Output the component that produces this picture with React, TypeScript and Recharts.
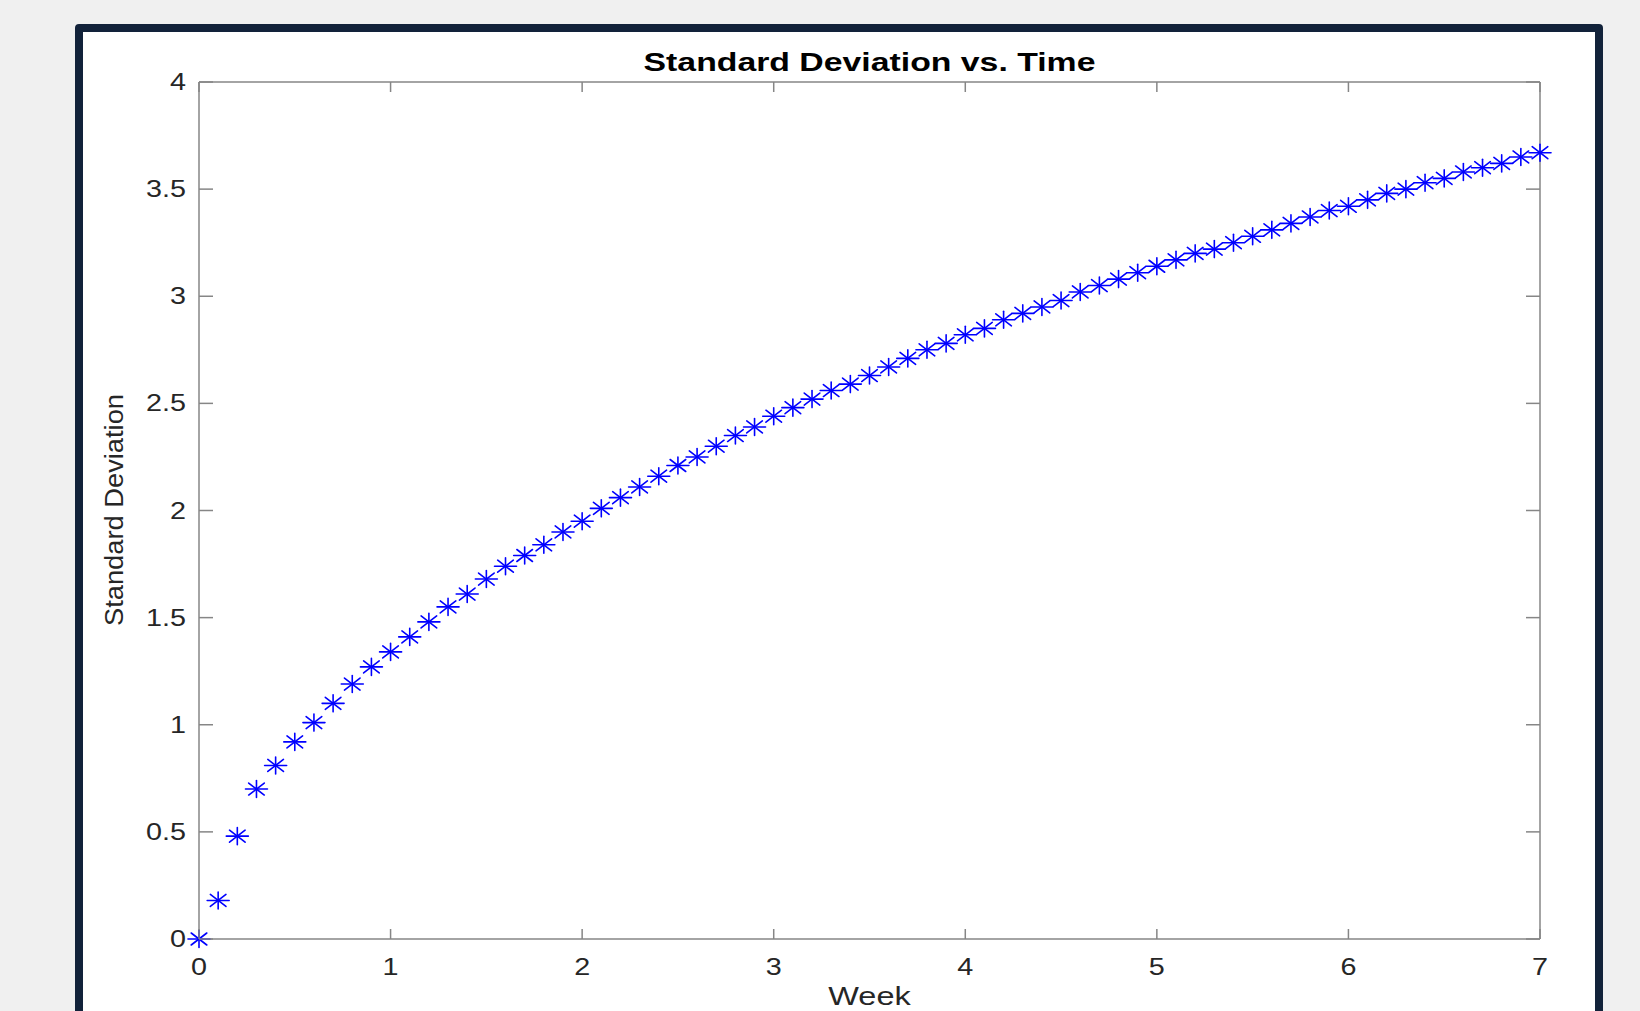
import React from 'react';
import { ScatterChart, Scatter, XAxis, YAxis, ReferenceLine } from 'recharts';

const weeks = [
  0, 0.1, 0.2, 0.3, 0.4, 0.5, 0.6, 0.7, 0.8, 0.9,
  1, 1.1, 1.2, 1.3, 1.4, 1.5, 1.6, 1.7, 1.8, 1.9,
  2, 2.1, 2.2, 2.3, 2.4, 2.5, 2.6, 2.7, 2.8, 2.9,
  3, 3.1, 3.2, 3.3, 3.4, 3.5, 3.6, 3.7, 3.8, 3.9,
  4, 4.1, 4.2, 4.3, 4.4, 4.5, 4.6, 4.7, 4.8, 4.9,
  5, 5.1, 5.2, 5.3, 5.4, 5.5, 5.6, 5.7, 5.8, 5.9,
  6, 6.1, 6.2, 6.3, 6.4, 6.5, 6.6, 6.7, 6.8, 6.9,
  7,
];

const stdDev = [
  0, 0.18, 0.48, 0.70, 0.81, 0.92, 1.01, 1.10, 1.19, 1.27,
  1.34, 1.41, 1.48, 1.55, 1.61, 1.68, 1.74, 1.79, 1.84, 1.90,
  1.95, 2.01, 2.06, 2.11, 2.16, 2.21, 2.25, 2.30, 2.35, 2.39,
  2.44, 2.48, 2.52, 2.56, 2.59, 2.63, 2.67, 2.71, 2.75, 2.78,
  2.82, 2.85, 2.89, 2.92, 2.95, 2.98, 3.02, 3.05, 3.08, 3.11,
  3.14, 3.17, 3.20, 3.22, 3.25, 3.28, 3.31, 3.34, 3.37, 3.40,
  3.42, 3.45, 3.48, 3.50, 3.53, 3.55, 3.58, 3.60, 3.62, 3.65,
  3.67,
];

const xTicks = [0, 1, 2, 3, 4, 5, 6, 7];
const yTicks = [0, 0.5, 1, 1.5, 2, 2.5, 3, 3.5, 4];

const TITLE = 'Standard Deviation vs. Time';
const X_LABEL = 'Week';
const Y_LABEL = 'Standard Deviation';

// plot box (px) - matches margins below
const PLOT = { left: 199, right: 1540, top: 82, bottom: 939 };
const FONT = '"Liberation Sans", Arial, Helvetica, sans-serif';
const AXIS_GRAY = '#868686';
const TEXT_GRAY = '#262626';
const STRETCH = 1.25;

const data = weeks.map((w, i) => ({ week: w, sd: stdDev[i] }));

const Asterisk = (props: any) => {
  const { cx, cy } = props;
  if (cx == null || cy == null) return null;
  const rx = 11;
  const ry = 8.5;
  const dx = 7.8;
  const dy = 6;
  return (
    <g stroke="#0000ff" strokeWidth={1.6} strokeLinecap="round">
      <line x1={cx - rx} y1={cy} x2={cx + rx} y2={cy} />
      <line x1={cx} y1={cy - ry} x2={cx} y2={cy + ry} />
      <line x1={cx - dx} y1={cy - dy} x2={cx + dx} y2={cy + dy} />
      <line x1={cx - dx} y1={cy + dy} x2={cx + dx} y2={cy - dy} />
    </g>
  );
};

const XTick = (props: any) => {
  const { x, payload } = props;
  return (
    <g>
      <line x1={x} x2={x} y1={PLOT.bottom} y2={PLOT.bottom - 10} stroke={AXIS_GRAY} strokeWidth={1.5} />
      <line x1={x} x2={x} y1={PLOT.top} y2={PLOT.top + 10} stroke={AXIS_GRAY} strokeWidth={1.5} />
      <text
        transform={`translate(${x} 975) scale(${STRETCH} 1)`}
        textAnchor="middle"
        fontSize={23}
        fontFamily={FONT}
        fill={TEXT_GRAY}
      >
        {payload.value}
      </text>
    </g>
  );
};

const YTick = (props: any) => {
  const { y, payload } = props;
  return (
    <g>
      <line x1={PLOT.left} x2={PLOT.left + 14} y1={y} y2={y} stroke={AXIS_GRAY} strokeWidth={1.5} />
      <line x1={PLOT.right} x2={PLOT.right - 14} y1={y} y2={y} stroke={AXIS_GRAY} strokeWidth={1.5} />
      <text
        transform={`translate(186 ${y + 8}) scale(${STRETCH} 1)`}
        textAnchor="end"
        fontSize={23}
        fontFamily={FONT}
        fill={TEXT_GRAY}
      >
        {payload.value}
      </text>
    </g>
  );
};

export default function App() {
  return (
    <div
      style={{
        position: 'absolute',
        left: 0,
        top: 0,
        width: 1640,
        height: 1011,
        overflow: 'hidden',
        background: '#f0f0f0',
      }}
    >
      <div
        style={{
          position: 'absolute',
          left: 75,
          top: 24,
          width: 1528,
          height: 1100,
          boxSizing: 'border-box',
          border: '8px solid #12223a',
          borderRadius: 4,
          background: '#ffffff',
        }}
      />
      <div style={{ position: 'absolute', left: 0, top: 0 }}>
        <ScatterChart
          width={1640}
          height={1011}
          margin={{ top: PLOT.top, right: 1640 - PLOT.right, left: PLOT.left - 60, bottom: 1011 - PLOT.bottom - 40 }}
        >
          <XAxis
            type="number"
            dataKey="week"
            domain={[0, 7]}
            ticks={xTicks}
            height={40}
            tickLine={false}
            axisLine={{ stroke: AXIS_GRAY, strokeWidth: 1.5 }}
            tick={<XTick />}
            interval={0}
          />
          <YAxis
            type="number"
            dataKey="sd"
            domain={[0, 4]}
            ticks={yTicks}
            width={60}
            tickLine={false}
            axisLine={{ stroke: AXIS_GRAY, strokeWidth: 1.5 }}
            tick={<YTick />}
            interval={0}
          />
          <ReferenceLine y={4} stroke={AXIS_GRAY} strokeWidth={1.5} />
          <ReferenceLine x={7} stroke={AXIS_GRAY} strokeWidth={1.5} />
          <Scatter data={data} shape={<Asterisk />} isAnimationActive={false} />
        </ScatterChart>
      </div>
      <svg
        width={1640}
        height={1011}
        style={{ position: 'absolute', left: 0, top: 0, pointerEvents: 'none' }}
      >
        <text
          transform={`translate(${(PLOT.left + PLOT.right) / 2} 71) scale(1.3 1)`}
          textAnchor="middle"
          fontSize={26}
          fontWeight="bold"
          fontFamily={FONT}
          fill="#000000"
        >
          {TITLE}
        </text>
        <text
          transform={`translate(${(PLOT.left + PLOT.right) / 2} 1005) scale(1.3 1)`}
          textAnchor="middle"
          fontSize={25}
          fontFamily={FONT}
          fill={TEXT_GRAY}
        >
          {X_LABEL}
        </text>
        <text
          transform="translate(123 510) rotate(-90) scale(1.05 1)"
          textAnchor="middle"
          fontSize={26}
          fontFamily={FONT}
          fill={TEXT_GRAY}
        >
          {Y_LABEL}
        </text>
      </svg>
    </div>
  );
}
